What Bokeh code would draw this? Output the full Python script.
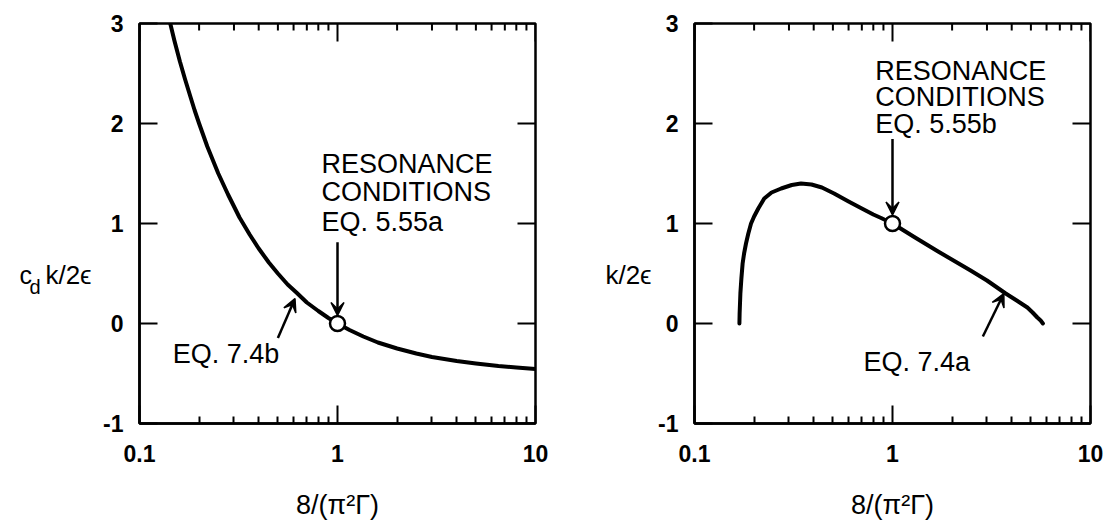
from bokeh.plotting import figure
from bokeh.layouts import row
from bokeh.models import (FixedTicker, Range1d, Label, Arrow, VeeHead, CustomJSTickFormatter)
from bokeh.embed import file_html
from bokeh.resources import INLINE

# ---------------- data ----------------
x_major = [0.1, 1, 10]
x_minor = [0.2, 0.3, 0.4, 0.5, 0.6, 0.7, 0.8, 0.9, 2, 3, 4, 5, 6, 7, 8, 9]
y_ticks = [-1, 0, 1, 2, 3]

left_x = [0.143, 0.15, 0.16, 0.17, 0.18, 0.19, 0.2, 0.22, 0.25, 0.28, 0.32, 0.36, 0.4,
          0.45, 0.5, 0.56, 0.62, 0.7, 0.8, 0.9, 1.0, 1.15, 1.35, 1.6, 2.0, 2.5, 3.0,
          4.0, 5.0, 6.5, 8.0, 10.0]
left_y = [3.0, 2.83, 2.62, 2.44, 2.28, 2.13, 2.0, 1.77, 1.5, 1.29, 1.06, 0.89, 0.75,
          0.61, 0.5, 0.39, 0.31, 0.21, 0.125, 0.055, 0.0, -0.065, -0.13, -0.19, -0.25,
          -0.30, -0.335, -0.375, -0.40, -0.425, -0.44, -0.455]

right_x = [0.1686, 0.169, 0.1705, 0.1725, 0.175, 0.178, 0.182, 0.187, 0.193, 0.2, 0.21,
           0.225, 0.245, 0.274, 0.31, 0.345, 0.39, 0.44, 0.507, 0.6, 0.7, 0.8, 0.876,
           1.0, 1.3, 1.7, 2.48, 3.0, 3.73, 4.2, 4.8, 5.1, 5.39, 5.6, 5.75]
right_y = [0.0, 0.1, 0.3, 0.45, 0.6, 0.7, 0.8, 0.9, 1.0, 1.07, 1.15, 1.25, 1.31, 1.35,
           1.385, 1.40, 1.39, 1.36, 1.30, 1.22, 1.15, 1.09, 1.055, 1.0, 0.86, 0.72,
           0.53, 0.43, 0.30, 0.235, 0.16, 0.11, 0.06, 0.03, 0.0]

res_left_x, res_left_y = [1.0], [0.0]
res_right_x, res_right_y = [1.0], [1.0]

FONT = "Liberation Sans"
TOP, BOTTOM = 20, 106


def make_panel(border_top, border_bottom):
    p = figure(width=455, height=529, x_axis_type="log",
               x_range=Range1d(0.1, 10), y_range=Range1d(-1, 3),
               output_backend="svg", toolbar_location=None,
               min_border_left=38, min_border_right=20,
               min_border_top=border_top, min_border_bottom=border_bottom)
    p.grid.visible = False
    p.outline_line_color = "black"
    p.outline_line_width = 2.5
    p.background_fill_color = "white"
    p.border_fill_color = "white"

    fmt = CustomJSTickFormatter(code="return tick.toString();")
    bx = p.xaxis[0]
    bx.ticker = FixedTicker(ticks=x_major, minor_ticks=x_minor)
    bx.formatter = fmt
    by = p.yaxis[0]
    by.ticker = FixedTicker(ticks=y_ticks, minor_ticks=[])
    by.formatter = fmt

    bx.major_tick_in = 18
    bx.minor_tick_in = 7
    by.major_tick_in = 18
    by.minor_tick_in = 0
    for ax in (bx, by):
        ax.major_tick_out = 0
        ax.minor_tick_out = 0
        ax.axis_line_color = "black"
        ax.axis_line_width = 2.5
        ax.major_tick_line_color = "black"
        ax.major_tick_line_width = 2
        ax.minor_tick_line_color = "black"
        ax.minor_tick_line_width = 2
        ax.major_label_text_font = FONT
        ax.major_label_text_font_style = "bold"
        ax.major_label_text_font_size = "23px"
        ax.major_label_text_color = "black"
    bx.major_label_standoff = 21
    by.major_label_standoff = 16
    bx.axis_label = "8/(\u03c0\u00b2\u0393)"
    bx.axis_label_text_font = FONT
    bx.axis_label_text_font_style = "normal"
    bx.axis_label_text_font_size = "27px"
    bx.axis_label_text_color = "black"
    bx.axis_label_standoff = 25

    # inward ticks on the top and right edges, from the same tick lists
    y_top = y_ticks[-1]
    x_right = x_major[-1]
    p.ray(x=x_minor, y=[y_top] * len(x_minor), length=7, length_units="screen",
          angle=-90, angle_units="deg", line_width=2, line_color="black")
    p.ray(x=x_major, y=[y_top] * len(x_major), length=18, length_units="screen",
          angle=-90, angle_units="deg", line_width=2, line_color="black")
    p.ray(x=[x_right] * len(y_ticks), y=y_ticks, length=18, length_units="screen",
          angle=180, angle_units="deg", line_width=2, line_color="black")
    return p


def label_strip(border_top, border_bottom):
    s = figure(width=100, height=529, x_range=Range1d(0, 100), y_range=Range1d(-1, 3),
               output_backend="svg", toolbar_location=None,
               x_axis_location=None, y_axis_location=None,
               min_border_left=0, min_border_right=0,
               min_border_top=border_top, min_border_bottom=border_bottom)
    s.grid.visible = False
    s.outline_line_color = None
    s.background_fill_color = "white"
    s.border_fill_color = "white"
    return s


def txt(p, x, y, s, size="27px", align="left", baseline="middle"):
    p.add_layout(Label(x=x, y=y, text=s, text_font=FONT, text_font_size=size,
                       text_baseline=baseline, text_align=align, text_color="black"))


def arrow(p, x0, y0, x1, y1):
    p.add_layout(Arrow(end=VeeHead(size=13, fill_color="black", line_color="black",
                                   line_width=1.5),
                       x_start=x0, y_start=y0, x_end=x1, y_end=y1,
                       line_width=2.5, line_color="black"))


# ---------------- left panel ----------------
s1 = label_strip(TOP, BOTTOM)
txt(s1, 19, 0.49, "c", size="25px", baseline="alphabetic")
txt(s1, 29, 0.37, "d", size="20px", baseline="alphabetic")
txt(s1, 68, 0.49, "k/2\u03f5", size="26px", align="center", baseline="alphabetic")

p1 = make_panel(TOP, BOTTOM)
p1.line(left_x, left_y, line_width=4, color="black", line_join="round", line_cap="round")
p1.scatter(res_left_x, res_left_y, size=15, fill_color="white", line_color="black",
           line_width=2.5)
txt(p1, 0.83, 1.593, "RESONANCE")
txt(p1, 0.83, 1.311, "CONDITIONS")
txt(p1, 0.83, 1.015, "EQ. 5.55a")
txt(p1, 0.147, -0.30, "EQ. 7.4b")
arrow(p1, 1.0, 0.813, 1.0, 0.08)
arrow(p1, 0.50, -0.145, 0.61, 0.25)

# ---------------- right panel ----------------
s2 = label_strip(23, 101)
txt(s2, 73, 0.49, "k/2\u03f5", size="26px", align="center", baseline="alphabetic")

p2 = make_panel(23, 101)
p2.line(right_x, right_y, line_width=4, color="black", line_join="round", line_cap="round")
p2.scatter(res_right_x, res_right_y, size=15, fill_color="white", line_color="black",
           line_width=2.5)
txt(p2, 0.818, 2.524, "RESONANCE")
txt(p2, 0.818, 2.27, "CONDITIONS")
txt(p2, 0.818, 2.0, "EQ. 5.55b")
txt(p2, 0.713, -0.38, "EQ. 7.4a")
arrow(p2, 1.0, 1.844, 1.0, 1.085)
arrow(p2, 2.86, -0.13, 3.65, 0.30)

layout = row(s1, p1, s2, p2)
open("out.html", "w").write(file_html(layout, INLINE))
